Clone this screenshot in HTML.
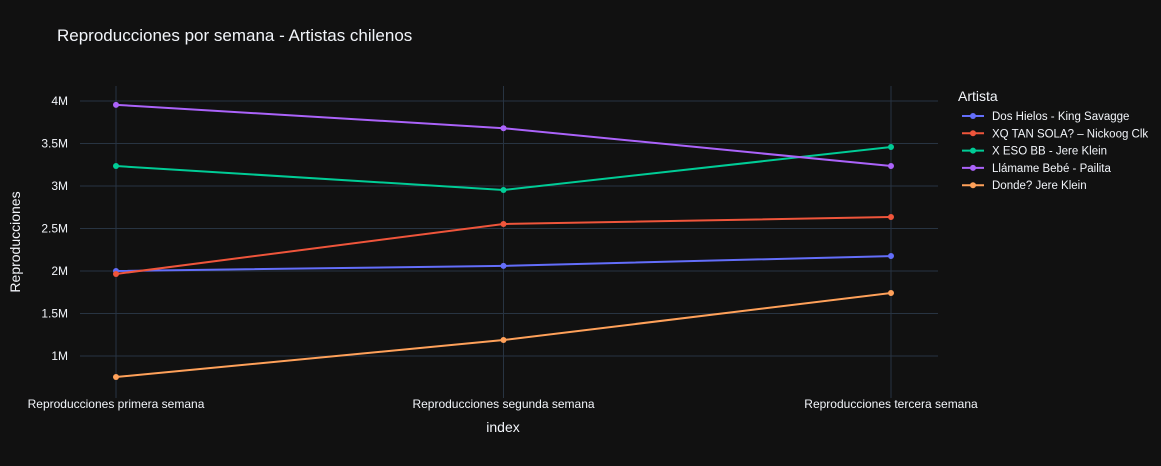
<!DOCTYPE html>
<html><head><meta charset="utf-8"><style>
body{margin:0;background:#111111;}
svg{display:block;font-family:"Liberation Sans",Arial,sans-serif;}
</style></head><body>
<svg id="chart" width="1161" height="466" xmlns="http://www.w3.org/2000/svg">
<rect width="1161" height="466" fill="#111111"/>
<text x="57" y="41" fill="#f2f5fa" font-size="17">Reproducciones por semana - Artistas chilenos</text>
<g id="grid"></g>
<g id="series"></g>
<g id="axes"></g>
<text x="503" y="432" fill="#f2f5fa" font-size="14" text-anchor="middle">index</text>
<text transform="translate(20,242) rotate(-90)" fill="#f2f5fa" font-size="14" text-anchor="middle">Reproducciones</text>
<g id="legend">
<text x="958" y="101" fill="#f2f5fa" font-size="14">Artista</text>
</g>
</svg>
<script>
const categories=["Reproducciones primera semana","Reproducciones segunda semana","Reproducciones tercera semana"];
const seriesNames=["Dos Hielos - King Savagge","XQ TAN SOLA? – Nickoog Clk","X ESO BB - Jere Klein","Llámame Bebé  - Pailita","Donde? Jere Klein"];
const dosHielos=[2000000,2060000,2176000];
const xqTanSola=[1965000,2553000,2635000];
const xEsoBB=[3235000,2953000,3459000];
const llamameBebe=[3955000,3680000,3235000];
const donde=[753000,1188000,1741000];
const yTicks=[1000000,1500000,2000000,2500000,3000000,3500000,4000000];
const yTickLabels=["1M","1.5M","2M","2.5M","3M","3.5M","4M"];
const colors=["#636efa","#EF553B","#00cc96","#ab63fa","#FFA15A"];
const allSeries=[dosHielos,xqTanSola,xEsoBB,llamameBebe,donde];
const NS="http://www.w3.org/2000/svg";
const xL=80,xR=938,yT=86,yB=398;
function xScale(i){return 116+i*(891-116)/(categories.length-1);}
function yScale(v){return 356-(v-1000000)/1000000*85;}
function mk(tag,attrs,parent){const e=document.createElementNS(NS,tag);for(const k in attrs)e.setAttribute(k,attrs[k]);parent.appendChild(e);return e;}
const grid=document.getElementById('grid'),axes=document.getElementById('axes'),ser=document.getElementById('series'),leg=document.getElementById('legend');
yTicks.forEach((t,i)=>{const y=yScale(t);
 const l=mk('line',{x1:xL,x2:xR,y1:y,y2:y,stroke:'#283442','stroke-width':1},grid);
 
 
 const tx=mk('text',{x:68,y:y+4,fill:'#f2f5fa','font-size':12,'text-anchor':'end'},axes);tx.textContent=yTickLabels[i];
 
 
});
categories.forEach((c,i)=>{const x=xScale(i);
 const l=mk('line',{x1:x,x2:x,y1:yT,y2:yB,stroke:'#283442','stroke-width':1},grid);
 
 
 const tx=mk('text',{x:x,y:408,fill:'#f2f5fa','font-size':12,'text-anchor':'middle'},axes);tx.textContent=c;
 
 
});
allSeries.forEach((s,k)=>{
 const pts=s.map((v,i)=>xScale(i)+','+yScale(v)).join(' ');
 const pl=mk('polyline',{points:pts,fill:'none',stroke:colors[k],'stroke-width':2},ser);
 
 
 s.forEach((v,i)=>{const c=mk('circle',{cx:xScale(i),cy:yScale(v),r:3,fill:colors[k]},ser);
  
  });
 const y=116+k*17.3;
 const g=mk('g',{},leg);
 
 
 mk('line',{x1:962,x2:984,y1:y,y2:y,stroke:colors[k],'stroke-width':2},g);
 mk('circle',{cx:973,cy:y,r:3,fill:colors[k]},g);
 const t=mk('text',{x:992,y:y+4,fill:'#f2f5fa','font-size':11.5},g);t.textContent=seriesNames[k];
});
</script>
</body></html>
